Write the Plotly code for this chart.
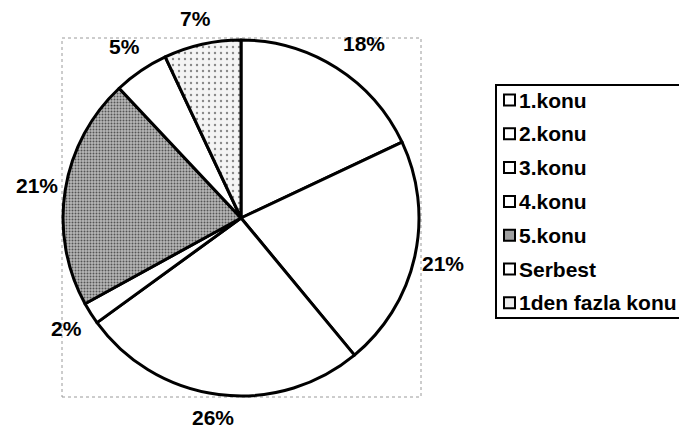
import math
import plotly.graph_objects as go

categories = ["1.konu", "2.konu", "3.konu", "4.konu", "5.konu", "Serbest", "1den fazla konu"]
values = [18, 21, 26, 2, 21, 5, 7]
pct_labels = ["18%", "21%", "26%", "2%", "21%", "5%", "7%"]

W, H = 687, 430
OFF = 8  # page body margin
cx, cy, R = 241 - OFF, 218 - OFF, 178  # pie centre / radius in pixels

fills = ["white", "white", "white", "white", "#b8b8b8", "white", "#f4f4f4"]
pat_shape = ["", "", "", "", ".", "", "."]
pat_fg = ["black", "black", "black", "black", "#555555", "black", "#888888"]
pat_size = [6, 6, 6, 6, 3, 6, 6]
pat_sol = [0.3, 0.3, 0.3, 0.3, 0.35, 0.3, 0.12]

FONT = "Liberation Sans, Arial, sans-serif"

fig = go.Figure()
fig.add_trace(go.Pie(
    labels=categories, values=values, sort=False, direction="clockwise",
    rotation=0, textinfo="none", hoverinfo="label+percent", showlegend=False,
    marker=dict(colors=fills, line=dict(color="black", width=3),
                pattern=dict(shape=pat_shape, fgcolor=pat_fg, bgcolor=fills,
                             size=pat_size, solidity=pat_sol)),
    domain=dict(x=[(cx - R) / W, (cx + R) / W], y=[1 - (cy + R) / H, 1 - (cy - R) / H]),
))

shapes = []
annotations = []

def px2x(px):
    return (px - OFF) / W

def py2y(py):
    return 1 - (py - OFF) / H

# faint plot-area border
shapes.append(dict(type="rect", xref="paper", yref="paper",
                   x0=px2x(62), x1=px2x(421), y0=py2y(397), y1=py2y(38),
                   line=dict(color="#9a9a9a", width=1, dash="dot"), layer="below"))

# percentage labels placed outside, at the slice mid-angles
label_r = 207
nudge = {0: (12, 0), 2: (-2, -6), 6: (0, 3)}
total = sum(values)
cum = 0
for i, v in enumerate(values):
    mid = (cum + v / 2) / total * 2 * math.pi
    cum += v
    px = cx + label_r * math.sin(mid)
    py = cy - label_r * math.cos(mid)
    dx, dy = nudge.get(i, (0, 0))
    px += dx
    py += dy
    annotations.append(dict(x=px / W, y=1 - py / H, xref="paper", yref="paper",
                            text="<b>" + pct_labels[i] + "</b>", showarrow=False,
                            font=dict(family=FONT, size=21, color="black"),
                            xanchor="center", yanchor="middle"))

# legend box
shapes.append(dict(type="rect", xref="paper", yref="paper",
                   x0=px2x(496), x1=px2x(710), y0=py2y(318), y1=py2y(85),
                   line=dict(color="black", width=2), fillcolor="white"))
leg_fill = ["white", "white", "white", "white", "#a0a0a0", "white", "#ececec"]
y0 = 100
step = 33.8
for i, name in enumerate(categories):
    yc = y0 + i * step
    shapes.append(dict(type="rect", xref="paper", yref="paper",
                       x0=px2x(504), x1=px2x(515), y0=py2y(yc + 5.5), y1=py2y(yc - 5.5),
                       line=dict(color="black", width=2), fillcolor=leg_fill[i]))
    annotations.append(dict(x=px2x(517), y=py2y(yc), xref="paper", yref="paper",
                            text="<b>" + name + "</b>", showarrow=False,
                            font=dict(family=FONT, size=21, color="black"),
                            xanchor="left", yanchor="middle"))

fig.update_layout(width=W, height=H, margin=dict(l=0, r=0, t=0, b=0),
                  paper_bgcolor="white", plot_bgcolor="white",
                  shapes=shapes, annotations=annotations, showlegend=False)
fig.write_html("out.html")
